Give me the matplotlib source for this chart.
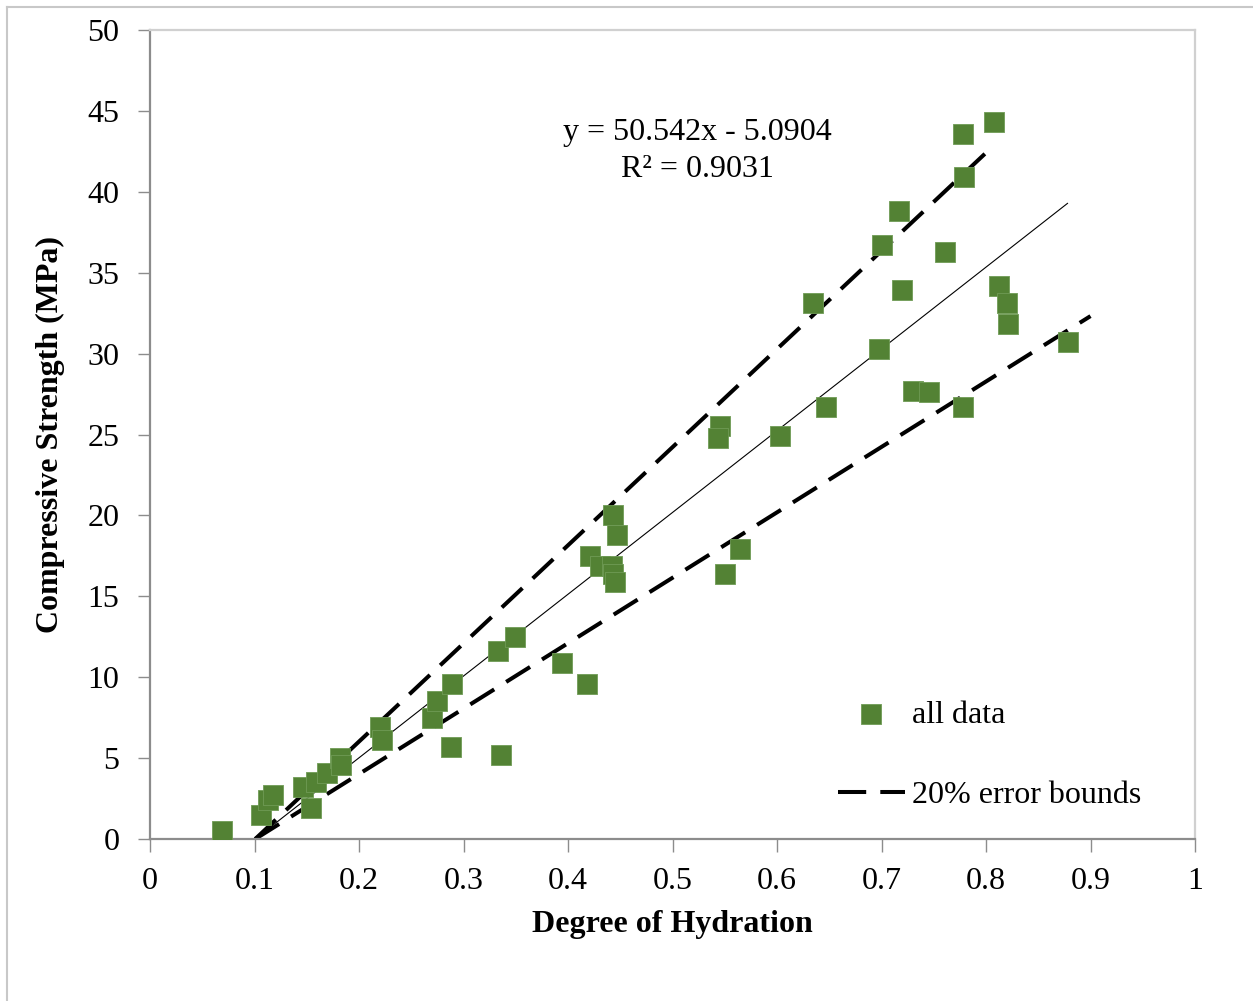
import matplotlib.pyplot as plt
from matplotlib.lines import Line2D

# degree of hydration vs. compressive strength
HYDRATION = [0.069, 0.106, 0.113, 0.118, 0.146, 0.154, 0.159, 0.169, 0.182, 0.183,
             0.220, 0.222, 0.270, 0.275, 0.289, 0.288, 0.333, 0.349, 0.336, 0.394,
             0.418, 0.421, 0.431, 0.443, 0.447, 0.442, 0.443, 0.445, 0.545, 0.544,
             0.550, 0.565, 0.603, 0.634, 0.647, 0.698, 0.700, 0.717, 0.720, 0.730,
             0.745, 0.761, 0.778, 0.779, 0.778, 0.808, 0.812, 0.820, 0.821, 0.878]
STRENGTH = [0.5, 1.5, 2.4, 2.7, 3.2, 1.9, 3.5, 4.1, 5.0, 4.6,
            6.9, 6.1, 7.5, 8.5, 9.6, 5.7, 11.6, 12.5, 5.2, 10.9,
            9.6, 17.5, 16.9, 20.0, 18.8, 16.9, 16.4, 15.9, 25.5, 24.8,
            16.4, 17.9, 24.9, 33.1, 26.7, 30.3, 36.7, 38.8, 33.9, 27.7,
            27.6, 36.3, 43.6, 40.9, 26.7, 44.3, 34.2, 33.1, 31.8, 30.7]

# linear fit and +/-20 % bounds
SLOPE, INTERCEPT, R2 = 50.542, -5.0904, 0.9031
UPPER_X = [0.1007, 0.80]
LOWER_X = [0.1007, 0.90]

GREEN = "#538234"
plt.rcParams["font.family"] = ["Liberation Serif", "DejaVu Serif"]
plt.rcParams["font.size"] = 23

fig = plt.figure(figsize=(12.53, 10.01), dpi=100)
ax = fig.add_axes([150 / 1253, 1 - 839 / 1001, 1045 / 1253, 809 / 1001])

ax.scatter(HYDRATION, STRENGTH, marker="s", s=210, color=GREEN,
           edgecolors="#6f9b55", linewidths=0.6, zorder=3, label="all data")

fit = lambda x: SLOPE * x + INTERCEPT
xs = [min(HYDRATION), max(HYDRATION)]
ax.plot(xs, [fit(v) for v in xs], color="black", lw=0.8, zorder=2)
ax.plot(UPPER_X, [1.2 * fit(v) for v in UPPER_X], color="black", lw=2.9,
        dashes=(7, 3.5), zorder=2, label="20% error bounds")
ax.plot(LOWER_X, [0.8 * fit(v) for v in LOWER_X], color="black", lw=2.9,
        dashes=(7, 3.5), zorder=2)

ax.text(0.5234, 43.65, f"y = {SLOPE}x - {abs(INTERCEPT)}", ha="center", va="center")
ax.text(0.5234, 41.35, f"R² = {R2}", ha="center", va="center")

ax.set_xlim(0, 1)
ax.set_ylim(0, 50)
ax.set_xticks([i / 10 for i in range(11)],
              ["0"] + [f"{i / 10:g}" for i in range(1, 10)] + ["1"])
ax.set_yticks(range(0, 51, 5))
ax.tick_params(direction="out", length=9, width=1, color="#8c8c8c")
ax.tick_params(axis="x", pad=11)
ax.tick_params(axis="y", pad=13)
for side in ("left", "bottom"):
    ax.spines[side].set_color("#8c8c8c")
    ax.spines[side].set_linewidth(1.6)
for side in ("top", "right"):
    ax.spines[side].set_color("#d0d0d0")
    ax.spines[side].set_linewidth(1.6)

ax.set_xlabel("Degree of Hydration", fontweight="bold", labelpad=10.5)
ax.set_ylabel("Compressive Strength (MPa)", fontweight="bold", labelpad=16)

ax.legend(loc="lower left", bbox_to_anchor=(0.646, 0.02), frameon=False,
          handlelength=2.1, handletextpad=0.22, labelspacing=1.6,
          borderaxespad=0)

# outer chart frame (top and left edges)
fig.add_artist(Line2D([7 / 1253, 1], [1 - 7 / 1001] * 2, color="#c8c8c8", lw=1.5))
fig.add_artist(Line2D([7 / 1253] * 2, [0, 1 - 7 / 1001], color="#c8c8c8", lw=1.5))

fig.savefig("out.png", dpi=100, facecolor="white")
